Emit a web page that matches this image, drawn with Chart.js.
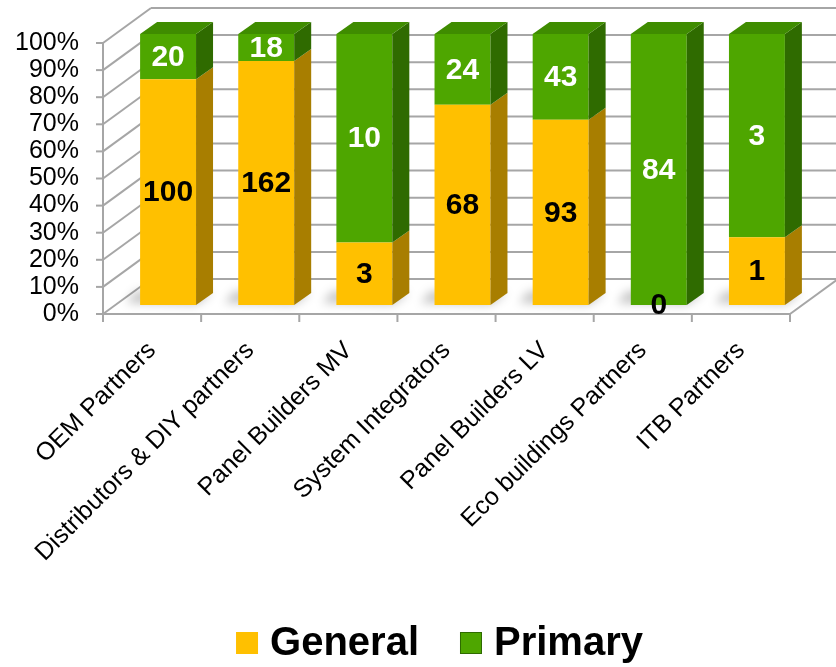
<!DOCTYPE html>
<html>
<head>
<meta charset="utf-8">
<script src="https://cdn.jsdelivr.net/npm/chart.js@4"></script>
<style>
  html, body { margin: 0; padding: 0; background: #fff; }
  .wrap { width: 836px; height: 667px; }
</style>
</head>
<body>
<div class="wrap"><canvas class="graphic"></canvas></div>
<script>
const categories = [
  "OEM Partners",
  "Distributors & DIY partners",
  "Panel Builders MV",
  "System Integrators",
  "Panel Builders LV",
  "Eco buildings Partners",
  "ITB Partners",
];
const generalValues = [100, 162, 3, 68, 93, 0, 1];
const primaryValues = [20, 18, 10, 24, 43, 84, 3];
const seriesNames = ["General", "Primary"];
const yTickStep = 10;

const FONT = "'Liberation Sans', Arial, sans-serif";
const colors = {
  general: { front: "#ffc000", side: "#a87e00", top: "#e0a900", label: "#000000" },
  primary: { front: "#4ea600", side: "#2f6b00", top: "#3f8c00", label: "#ffffff" },
};
const wallDepth = { x: 48, y: -35 };
const barShift = { x: 16, y: -9 };
const barDepth = { x: 17, y: -12 };

const totals = generalValues.map((v, i) => v + primaryValues[i]);
const toPercent = (arr) => arr.map((v, i) => (totals[i] ? (v / totals[i]) * 100 : 0));
const rawValues = [generalValues, primaryValues];
const palette = [colors.general, colors.primary];

const poly = (ctx, pts, fill) => {
  ctx.beginPath();
  ctx.moveTo(pts[0][0], pts[0][1]);
  pts.slice(1).forEach((p) => ctx.lineTo(p[0], p[1]));
  ctx.closePath();
  ctx.fillStyle = fill;
  ctx.fill();
};

const line = (ctx, x1, y1, x2, y2) => {
  ctx.beginPath();
  ctx.moveTo(x1, y1);
  ctx.lineTo(x2, y2);
  ctx.stroke();
};

// walls, floor and the 3d look of the bars
const box3d = {
  id: "box3d",
  beforeDatasetsDraw(chart) {
    const { ctx, chartArea, scales } = chart;
    const { left, right, bottom } = chartArea;
    ctx.save();
    ctx.strokeStyle = "#a6a6a6";
    ctx.lineWidth = 2;
    scales.y.ticks.forEach((t) => {
      const py = scales.y.getPixelForValue(t.value);
      line(ctx, left - 7, py, left, py);
      line(ctx, left, py, left + wallDepth.x, py + wallDepth.y);
      line(ctx, left + wallDepth.x, py + wallDepth.y, right + wallDepth.x, py + wallDepth.y);
    });
    line(ctx, left, chartArea.top, left, bottom);
    line(ctx, left, bottom, right, bottom);
    line(ctx, right, bottom, right + wallDepth.x, bottom + wallDepth.y);
    const n = categories.length;
    for (let i = 0; i <= n; i++) {
      const px = left + (i * (right - left)) / n;
      line(ctx, px, bottom, px, bottom + 8);
    }

    // soft shadows on the floor
    ctx.translate(barShift.x, barShift.y);
    ctx.filter = "blur(5px)";
    const meta = chart.getDatasetMeta(0);
    meta.data.forEach((bar) => {
      const { x, base, width } = bar.getProps(["x", "base", "width"], true);
      const l = x - width / 2;
      const r = x + width / 2;
      poly(ctx, [
        [l - 14, base - 2],
        [r, base],
        [r + barDepth.x, base + barDepth.y],
        [l - 4, base + barDepth.y - 2],
      ], "rgba(0,0,0,0.22)");
    });
    ctx.filter = "none";
    ctx.restore();

    ctx.save();
    ctx.translate(barShift.x, barShift.y);
  },
  afterDatasetsDraw(chart) {
    const { ctx } = chart;
    const metas = chart.data.datasets.map((ds, di) => chart.getDatasetMeta(di));

    metas.forEach((meta, di) => {
      meta.data.forEach((bar) => {
        const { x, y, base, width } = bar.getProps(["x", "y", "base", "width"], true);
        if (base - y < 0.5) return;
        const r = x + width / 2;
        poly(ctx, [
          [r, y],
          [r + barDepth.x, y + barDepth.y],
          [r + barDepth.x, base + barDepth.y],
          [r, base],
        ], palette[di].side);
      });
    });

    categories.forEach((c, i) => {
      let top = -1;
      rawValues.forEach((vals, di) => {
        if (vals[i] > 0) top = di;
      });
      if (top < 0) return;
      const { x, y, width } = metas[top].data[i].getProps(["x", "y", "width"], true);
      const l = x - width / 2;
      const r = x + width / 2;
      poly(ctx, [
        [l, y],
        [l + barDepth.x, y + barDepth.y],
        [r + barDepth.x, y + barDepth.y],
        [r, y],
      ], palette[top].top);
    });

    // value labels
    ctx.font = `bold 30px ${FONT}`;
    ctx.textAlign = "center";
    ctx.textBaseline = "middle";
    metas.forEach((meta, di) => {
      meta.data.forEach((bar, i) => {
        const { x, y, base } = bar.getProps(["x", "y", "base"], true);
        ctx.fillStyle = palette[di].label;
        if (rawValues[di][i] === 0) ctx.fillStyle = "#000000";
        ctx.fillText(String(rawValues[di][i]), x, (y + base) / 2 + 1);
      });
    });
    ctx.restore();
  },
  afterDraw(chart) {
    const { ctx, chartArea } = chart;
    const box = 22;
    const gap = 12;
    const itemGap = 41;
    ctx.save();
    ctx.font = `bold 40px ${FONT}`;
    ctx.textBaseline = "middle";
    ctx.textAlign = "left";
    const widths = seriesNames.map((s) => ctx.measureText(s).width);
    const total = widths.reduce((a, w) => a + box + gap + w, 0) + itemGap * (seriesNames.length - 1);
    let px = (chartArea.left + chartArea.right) / 2 - 7 - total / 2;
    const cy = 643;
    seriesNames.forEach((s, i) => {
      ctx.fillStyle = palette[i].front;
      ctx.fillRect(px, cy - box / 2, box, box);
      if (i === 1) {
        ctx.strokeStyle = palette[i].side;
        ctx.lineWidth = 1;
        ctx.strokeRect(px + 0.5, cy - box / 2 + 0.5, box - 1, box - 1);
      }
      ctx.fillStyle = "#000000";
      ctx.fillText(s, px + box + gap, cy + 1);
      px += box + gap + widths[i] + itemGap;
    });
    ctx.restore();
  },
};

const data = {
  labels: categories,
  datasets: [
    {
      label: seriesNames[0],
      data: toPercent(generalValues),
      backgroundColor: colors.general.front,
      borderWidth: 0,
    },
    {
      label: seriesNames[1],
      data: toPercent(primaryValues),
      backgroundColor: colors.primary.front,
      borderWidth: 0,
    },
  ],
};

const config = {
  type: "bar",
  data,
  plugins: [box3d],
  options: {
    responsive: true,
    maintainAspectRatio: false,
    animation: false,
    layout: { padding: { top: 43, right: 46, left: 0, bottom: 0 } },
    datasets: { bar: { categoryPercentage: 1, barPercentage: 0.57 } },
    plugins: {
      legend: { display: false },
      tooltip: { enabled: false },
    },
    scales: {
      x: {
        stacked: true,
        grid: { display: false },
        border: { display: false },
        afterFit: (scale) => { scale.height = 353; },
        ticks: {
          autoSkip: false,
          minRotation: 45,
          maxRotation: 45,
          padding: 14,
          color: "#000000",
          font: { family: FONT, size: 25 },
        },
      },
      y: {
        stacked: true,
        min: 0,
        max: 100,
        grid: { display: false },
        border: { display: false },
        afterFit: (scale) => { scale.width = 103; },
        ticks: {
          stepSize: yTickStep,
          autoSkip: false,
          padding: 16,
          color: "#000000",
          font: { family: FONT, size: 25 },
          callback: (v) => v + "%",
        },
      },
    },
  },
};

const ctx = document.querySelector(".graphic").getContext("2d");
const chartInstance = new Chart(ctx, config);
</script>
</body>
</html>
